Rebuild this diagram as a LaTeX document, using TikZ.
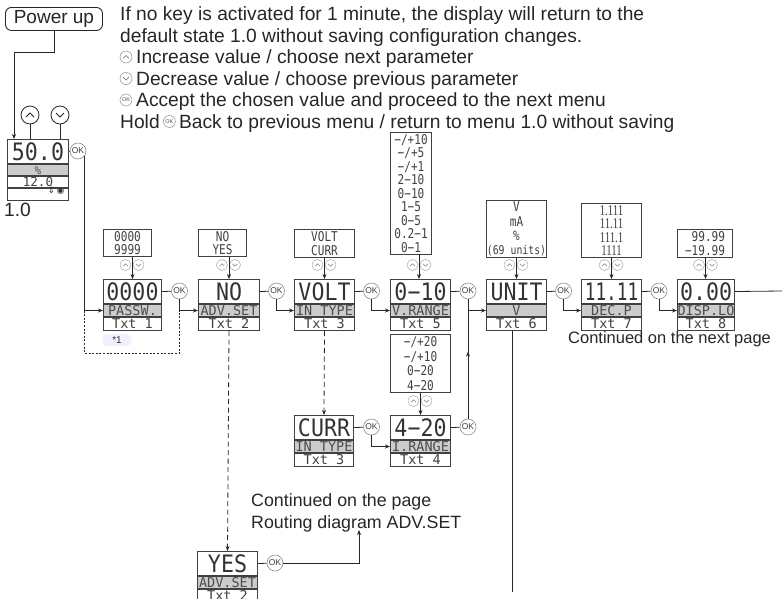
\documentclass[tikz,border=0pt]{standalone}
\usepackage{fontspec}
\usepackage{graphicx}
\setmainfont{Liberation Sans}
\newfontfamily\lcd[FakeStretch=0.9]{DejaVu Sans Mono}
\newfontfamily\lcdn{DejaVu Sans Mono}
\newfontfamily\lcdo[FakeStretch=0.82]{DejaVu Sans Mono}
\newfontfamily\lcdser[FakeStretch=0.72]{Liberation Serif}
\newfontfamily\symfont{DejaVu Sans}
\usetikzlibrary{arrows.meta,calc,decorations.markings}

\newcommand\dispbox[7]{%
  \node[toprow, minimum width=#4pt, anchor=north west] (#1-t) at (#2,#3) {#5};
  \node[grayrow, minimum width=#4pt, anchor=north] (#1-g) at (#1-t.south) {#6};
  \node[botrow, minimum width=#4pt, anchor=north] (#1-b) at (#1-g.south) {#7};
}
\newcommand\udpair[3]{%
  \node[upc] (#1-u) at (#2-6.5,#3) {};
  \node[dnc] (#1-d) at (#2+6.5,#3) {};
}

\tikzset{
  ln/.style={line width=0.8pt, draw=black!85},
  arr/.style={ln, -{Stealth[length=5pt,width=4pt]}},
  dsh/.style={ln, dash pattern=on 5pt off 3.5pt},
  dotb/.style={ln, dash pattern=on 2pt off 1.6pt},
  toprow/.style={draw=black!75, line width=1pt, minimum height=24pt, inner sep=0pt, text height=17.5pt, text depth=0pt, font=\lcd\fontsize{24}{24}\selectfont, text=black!80},
  grayrow/.style={draw=black!75, line width=1pt, fill=black!20, minimum height=12pt, inner sep=0pt, text height=9.8pt, text depth=0pt, font=\lcdn\fontsize{13.5}{13.5}\selectfont, text=black!70},
  botrow/.style={draw=black!75, line width=1pt, minimum height=13pt, inner sep=0pt, text height=9.8pt, text depth=0pt, font=\lcdn\fontsize{13.5}{13.5}\selectfont, text=black!75},
  optbox/.style={draw=black!75, line width=1pt, inner sep=0pt, align=center, font=\lcdo\fontsize{13.5}{13.5}\selectfont, text=black!75},
  okc/.style={circle, draw=black!45, line width=0.6pt, fill=white, minimum size=16pt, inner sep=0pt, font=\fontsize{8.5}{8.5}\selectfont, text=black!75},
  smc/.style={circle, draw=black!35, line width=0.5pt, minimum size=11pt, inner sep=0pt},
  upc/.style={smc, path picture={\draw[black!50, line width=0.6pt] ([shift={(-2.5,1.2)}]path picture bounding box.center) -- ([shift={(0,-1.3)}]path picture bounding box.center) -- ([shift={(2.5,1.2)}]path picture bounding box.center);}},
  dnc/.style={smc, path picture={\draw[black!50, line width=0.6pt] ([shift={(-2.5,-1.2)}]path picture bounding box.center) -- ([shift={(0,1.3)}]path picture bounding box.center) -- ([shift={(2.5,-1.2)}]path picture bounding box.center);}},
  bigc/.style={circle, draw=black!85, line width=0.8pt, minimum size=18pt, inner sep=0pt},
  bigup/.style={bigc, path picture={\draw[black!85, line width=0.9pt] ([shift={(-4,2)}]path picture bounding box.center) -- ([shift={(0,-2)}]path picture bounding box.center) -- ([shift={(4,2)}]path picture bounding box.center);}},
  bigdn/.style={bigc, path picture={\draw[black!85, line width=0.9pt] ([shift={(-4,-2)}]path picture bounding box.center) -- ([shift={(0,2)}]path picture bounding box.center) -- ([shift={(4,-2)}]path picture bounding box.center);}},
  legc/.style={circle, draw=black!45, line width=0.5pt, minimum size=12pt, inner sep=0pt},
  legup/.style={legc, path picture={\draw[black!60, line width=0.6pt] ([shift={(-3,1.4)}]path picture bounding box.center) -- ([shift={(0,-1.5)}]path picture bounding box.center) -- ([shift={(3,1.4)}]path picture bounding box.center);}},
  legdn/.style={legc, path picture={\draw[black!60, line width=0.6pt] ([shift={(-3,-1.4)}]path picture bounding box.center) -- ([shift={(0,1.5)}]path picture bounding box.center) -- ([shift={(3,-1.4)}]path picture bounding box.center);}},
  legok/.style={legc, font=\fontsize{5.5}{5.5}\selectfont, text=black!70},
  lbl/.style={font=\fontsize{19.2}{22}\selectfont, inner sep=0pt, anchor=base west, text=black!85},
  lbls/.style={lbl, font=\fontsize{17.8}{22}\selectfont},
  midup/.style={postaction={decorate, decoration={markings, mark=at position 0.62 with {\arrow{Stealth[length=5pt,width=4pt]}}}}},
}

\begin{document}
\begin{tikzpicture}[x=1pt,y=-1pt]
\useasboundingbox (0,0) rectangle (783,598);

% ---------- legend text ----------
\node[lbl] (t1) at (120,20.9) {If no key is activated for 1 minute, the display will return to the};
\node[lbl] (t2) at (120,42.4) {default state 1.0 without saving configuration changes.};
\node[legup] (s3) at (126,57) {};
\node[lbl] (t3) at (136,63.9) {Increase value / choose next parameter};
\node[legdn] (s4) at (126,78.5) {};
\node[lbl] (t4) at (136,85.4) {Decrease value / choose previous parameter};
\node[legok] (s5) at (126,100) {OK};
\node[lbl] (t5) at (136,106.9) {Accept the chosen value and proceed to the next menu};
\node[lbl] (t6a) at (120,128.4) {Hold};
\node[legok] (s6) at ($(t6a.base east)+(9.5,-6.9)$) {OK};
\node[lbl] (t6b) at ($(t6a.base east)+(19,0)$) {Back to previous menu / return to menu 1.0 without saving};

% ---------- power up and display 1.0 ----------
\node[draw=black!85, line width=0.9pt, rounded corners=6pt, minimum width=97pt, minimum height=23pt, anchor=north west, inner sep=0pt, font=\fontsize{19}{19}\selectfont, text=black!85] (pwr) at (5,7) {Power up};

\node[toprow, minimum width=61pt, anchor=north west] (d10-t) at (7,139) {50.0};
\node[grayrow, minimum width=61pt, minimum height=11pt, text height=8pt, font=\lcdn\fontsize{11}{11}\selectfont, anchor=north] (d10-g) at (d10-t.south) {\%};
\node[botrow, minimum width=61pt, minimum height=11pt, text height=9pt, font=\lcdn\fontsize{12.5}{12.5}\selectfont, anchor=north] (d10-m) at (d10-g.south) {12.0};
\node[botrow, minimum width=61pt, minimum height=12pt, anchor=north] (d10-i) at (d10-m.south) {};
\node[font=\symfont\fontsize{9}{9}\selectfont, inner sep=0pt, text=black!80] (d10-ic) at (56,191) {⇕\,◉};
\node[lbl] (lab10) at (4,216.5) {1.0};

\node[bigup] (cu) at (30,115) {};
\node[bigdn] (cd) at (60,115) {};
\draw[ln] (cu.south) -- (cu.south |- d10-t.north);
\draw[ln] (cd.south) -- (cd.south |- d10-t.north);

\coordinate (pbend) at (14,52);
\draw[arr] (pwr.south) |- (pbend) -- (pbend |- d10-t.north);

\node[okc] (ok0) at (78,151) {OK};
\draw[ln] (d10-t.east) -- (ok0.west);

% ---------- main display boxes ----------
\dispbox{passw}{103}{279}{58}{0000}{PASSW.}{Txt 1}
\dispbox{advno}{198}{279}{61}{NO}{ADV.SET}{Txt 2}
\dispbox{volt}{294}{279}{60}{VOLT}{IN TYPE}{Txt 3}
\dispbox{vrange}{390}{279}{60}{0−10}{V.RANGE}{Txt 5}
\dispbox{unit}{486}{279}{60}{UNIT}{V}{Txt 6}
\dispbox{decp}{581}{279}{60}{\scalebox{0.82}[1]{11.11}}{DEC.P}{Txt 7}
\dispbox{displo}{677}{279}{57}{0.00}{DISP.LO}{Txt 8}
\dispbox{curr}{294}{415}{59}{CURR}{IN TYPE}{Txt 3}
\dispbox{irange}{390}{415}{60}{4−20}{I.RANGE}{Txt 4}
\dispbox{advyes}{197}{551}{60}{YES}{ADV.SET}{Txt 2}

% ---------- option boxes ----------
\node[optbox, minimum width=48pt, minimum height=27pt, anchor=north west] (o1) at (103,229) {0000\\9999};
\node[optbox, minimum width=48pt, minimum height=27pt, anchor=north west] (o2) at (198,229) {NO\\YES};
\node[optbox, minimum width=60pt, minimum height=28pt, anchor=north west] (o3) at (294,229) {VOLT\\CURR};
\node[optbox, minimum width=41pt, minimum height=122pt, anchor=north west] (o4) at (390,132) {−/+10\\−/+5\\−/+1\\2−10\\0−10\\1−5\\0−5\\0.2−1\\0−1};
\node[optbox, minimum width=60pt, minimum height=57pt, anchor=north west, font=\lcdo\fontsize{13.5}{14.2}\selectfont] (o5) at (486,200) {V\\mA\\\%\\{\fontsize{12}{14.2}\selectfont(69 units)}};
\node[optbox, minimum width=60pt, minimum height=54pt, anchor=north west, font=\lcdser\fontsize{15}{13.5}\selectfont] (o6) at (581,203) {1.111\\11.11\\111.1\\1111};
\node[optbox, minimum width=55pt, minimum height=28pt, anchor=north west, align=right] (o7) at (677,229) {99.99\\−19.99};
\node[optbox, minimum width=60pt, minimum height=58pt, anchor=north west, font=\lcdo\fontsize{13.5}{14.5}\selectfont] (o8) at (390,334) {−/+20\\−/+10\\0−20\\4−20};

\udpair{p1}{132}{265}
\udpair{p2}{228.5}{265}
\udpair{p3}{324}{265}
\udpair{p4}{419}{265}
\udpair{p5}{516}{265}
\udpair{p6}{611}{265}
\udpair{p7}{705.5}{265}
\udpair{p8}{420}{401}

\draw[arr] (passw-t.north |- o1.south) -- (passw-t.north);
\draw[arr] (advno-t.north |- o2.south) -- (advno-t.north);
\draw[arr] (volt-t.north |- o3.south) -- (volt-t.north);
\coordinate (c4) at (419,254);
\draw[arr] (c4) -- (c4 |- vrange-t.north);
\draw[arr] (unit-t.north |- o5.south) -- (unit-t.north);
\draw[arr] (decp-t.north |- o6.south) -- (decp-t.north);
\coordinate (c7) at (705.5,257);
\draw[arr] (c7) -- (c7 |- displo-t.north);
\draw[arr] (irange-t.north |- o8.south) -- (irange-t.north);

% ---------- OK circles and flow ----------
\node[okc] (ok1) at (179.5,291) {OK};
\node[okc] (ok2) at (276.5,291) {OK};
\node[okc] (ok3) at (371.5,291) {OK};
\node[okc] (ok4) at (468,291) {OK};
\node[okc] (ok5) at (563.5,291) {OK};
\node[okc] (ok6) at (659,291) {OK};
\node[okc] (okc1) at (371.5,427) {OK};
\node[okc] (okc2) at (468,427) {OK};
\node[okc] (oky) at (275,563) {OK};

\draw[arr] (ok0.-35) |- (passw-g.west);
\draw[dotb] (ok0.-35 |- passw-g.west) -- ++(0,43) -| (ok1 |- passw-g.west);
\node[fill=black!8!blue!6, rounded corners=5pt, minimum width=29pt, minimum height=12pt, inner sep=0pt, font=\fontsize{10}{10}\selectfont, text=black!80] (star1) at (117,340) {*1};

\draw[ln] (passw-t.east) -- (ok1);
\draw[arr] (ok1.south) |- (advno-g.west);
\draw[ln] (advno-t.east) -- (ok2);
\draw[arr] (ok2.south) |- (volt-g.west);
\draw[ln] (volt-t.east) -- (ok3);
\draw[arr] (ok3.south) |- (vrange-g.west);
\draw[ln] (vrange-t.east) -- (ok4);
\draw[arr] (ok4.south) |- (unit-g.west);
\draw[ln] (unit-t.east) -- (ok5);
\draw[arr] (ok5.south) |- (decp-g.west);
\draw[ln] (decp-t.east) -- (ok6);
\draw[arr] (ok6.south) |- (displo-g.west);
\coordinate (dlend) at (782,291);
\draw[ln] (displo-t.east) -- (dlend);

\draw[ln] (curr-t.east) -- (okc1);
\draw[arr] (okc1.south) |- (irange-g.west);
\draw[ln] (irange-t.east) -- (okc2);
\draw[ln, midup] (okc2.north) -- (okc2 |- unit-g.west);

\coordinate (uend) at (512,592);
\draw[ln] (uend |- unit-b.south) -- (uend);

\draw[dsh, -{Stealth[length=5pt,width=4pt]}] (advno-b.south) -- (advyes-t.north);
\draw[dsh, -{Stealth[length=5pt,width=4pt]}] (volt-b.south) -- (curr-t.north);

\draw[ln] (advyes-t.east) -- (oky);
\coordinate (cont2) at (359,530);
\draw[arr] (oky.east) -| (cont2);

% ---------- continuation texts ----------
\node[lbl, font=\fontsize{16.5}{20}\selectfont] (cn1) at (568,343) {Continued on the next page};
\node[lbls] (cn2) at (251,506.4) {Continued on the page};
\node[lbls] (cn3) at (251,528.4) {Routing diagram ADV.SET};
\end{tikzpicture}
\end{document}
